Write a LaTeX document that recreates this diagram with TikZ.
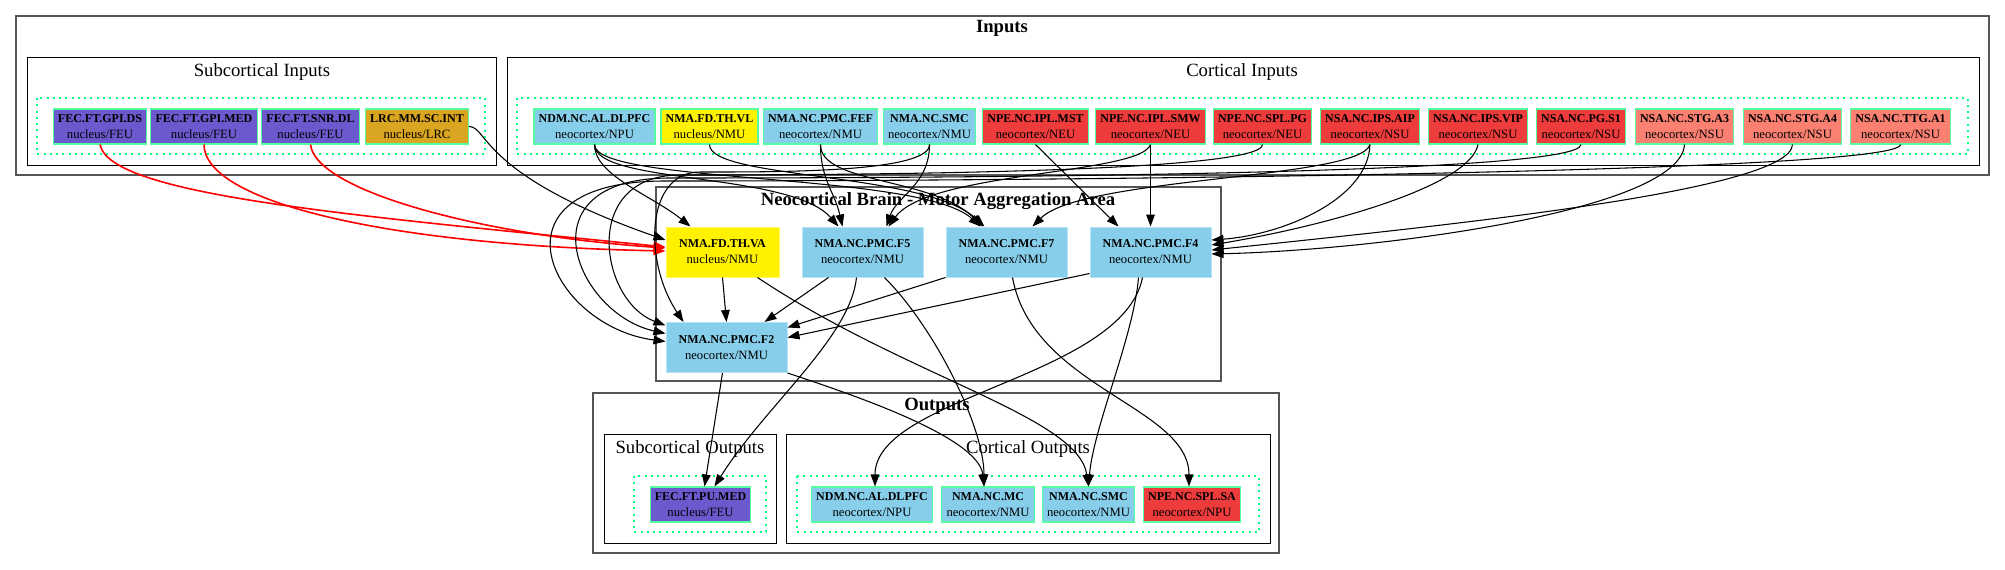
\documentclass[tikz,border=0pt]{standalone}
\usepackage{fontspec}
\setmainfont{Liberation Serif}
\usetikzlibrary{arrows.meta,calc}
\definecolor{skyblue}{RGB}{135,206,235}
\definecolor{firered}{RGB}{238,59,59}
\definecolor{salmon}{RGB}{250,128,114}
\definecolor{slateblue}{RGB}{106,90,205}
\definecolor{goldenrod}{RGB}{218,165,32}
\definecolor{seagreen}{RGB}{84,255,159}
\definecolor{springgreen}{RGB}{0,255,127}
\definecolor{boxgray}{RGB}{85,85,85}
\newcommand{\unitlbl}[2]{{\fontsize{9}{10.5}\selectfont\bfseries #1}\\{\fontsize{9.5}{10.5}\selectfont #2}}
\tikzset{
  unitbox/.style={draw=seagreen, line width=0.8pt, inner xsep=3.5pt, inner ysep=0pt, minimum height=26.25pt, align=center},
  areabox/.style={fill=skyblue, draw=skyblue!60!white, line width=0.75pt, minimum width=90.75pt, minimum height=37.5pt, align=center},
  clusterbox/.style={draw=black, line width=0.75pt},
  topbox/.style={draw=boxgray, line width=1.2pt},
  groupbox/.style={draw=springgreen, line width=1.1pt, dash pattern=on 1.5pt off 3.2pt},
  clustertitle/.style={font=\fontsize{14}{16}\selectfont, inner sep=0pt},
  conn/.style={-{Triangle[length=9pt,width=6.5pt]}, line width=0.8pt},
  redconn/.style={conn, draw=red, line width=1.2pt, -{Triangle[length=9pt,width=6.5pt,fill=red]}},
}
\begin{document}
\begin{tikzpicture}[x=0.75pt, y=-0.75pt]
\useasboundingbox (0,0) rectangle (2005,569);

\draw[topbox] (16,16) rectangle (1989,175);
\draw[clusterbox] (27,57) rectangle (496,165);
\draw[groupbox] (37,98) rectangle (485,154);
\draw[clusterbox] (507,57) rectangle (1979,165);
\draw[groupbox] (517,98) rectangle (1968,154);
\draw[topbox] (656,187) rectangle (1221,381);
\draw[topbox] (593,393) rectangle (1279,553);
\draw[clusterbox] (604,434) rectangle (776,543);
\draw[groupbox] (634,476) rectangle (766,532);
\draw[clusterbox] (786,434) rectangle (1270,543);
\draw[groupbox] (797,476) rectangle (1259,532);

\node[clustertitle] (inputs) at (1002,28) {\bfseries Inputs};
\node[clustertitle] (subin) at (262,72) {Subcortical Inputs};
\node[clustertitle] (cortin) at (1242,72) {Cortical Inputs};
\node[clustertitle] (brain) at (938,201) {\bfseries Neocortical Brain - Motor Aggregation Area};
\node[clustertitle] (outputs) at (937,406) {\bfseries Outputs};
\node[clustertitle] (subout) at (690,449) {Subcortical Outputs};
\node[clustertitle] (cortout) at (1028,449) {Cortical Outputs};

\node[unitbox, fill=slateblue] (gpids) at (100,126.5) {\unitlbl{FEC.FT.GPI.DS}{nucleus/FEU}};
\node[unitbox, fill=slateblue] (gpimed) at (204,126.5) {\unitlbl{FEC.FT.GPI.MED}{nucleus/FEU}};
\node[unitbox, fill=slateblue] (snrdl) at (310.5,126.5) {\unitlbl{FEC.FT.SNR.DL}{nucleus/FEU}};
\node[unitbox, fill=goldenrod] (lrcint) at (417,126.5) {\unitlbl{LRC.MM.SC.INT}{nucleus/LRC}};

\node[unitbox, fill=skyblue] (dlpfcin) at (594.5,126.5) {\unitlbl{NDM.NC.AL.DLPFC}{neocortex/NPU}};
\node[unitbox, fill=yellow] (vl) at (709.5,126.5) {\unitlbl{NMA.FD.TH.VL}{nucleus/NMU}};
\node[unitbox, fill=skyblue] (fef) at (820.5,126.5) {\unitlbl{NMA.NC.PMC.FEF}{neocortex/NMU}};
\node[unitbox, fill=skyblue] (smcin) at (929.5,126.5) {\unitlbl{NMA.NC.SMC}{neocortex/NMU}};
\node[unitbox, fill=firered] (mst) at (1035.5,126.5) {\unitlbl{NPE.NC.IPL.MST}{neocortex/NEU}};
\node[unitbox, fill=firered] (smw) at (1150.5,126.5) {\unitlbl{NPE.NC.IPL.SMW}{neocortex/NEU}};
\node[unitbox, fill=firered] (pg) at (1262.5,126.5) {\unitlbl{NPE.NC.SPL.PG}{neocortex/NEU}};
\node[unitbox, fill=firered] (aip) at (1370,126.5) {\unitlbl{NSA.NC.IPS.AIP}{neocortex/NSU}};
\node[unitbox, fill=firered] (vip) at (1478,126.5) {\unitlbl{NSA.NC.IPS.VIP}{neocortex/NSU}};
\node[unitbox, fill=firered] (s1) at (1581,126.5) {\unitlbl{NSA.NC.PG.S1}{neocortex/NSU}};
\node[unitbox, fill=salmon] (a3) at (1684.5,126.5) {\unitlbl{NSA.NC.STG.A3}{neocortex/NSU}};
\node[unitbox, fill=salmon] (a4) at (1792.5,126.5) {\unitlbl{NSA.NC.STG.A4}{neocortex/NSU}};
\node[unitbox, fill=salmon] (a1) at (1900.5,126.5) {\unitlbl{NSA.NC.TTG.A1}{neocortex/NSU}};

\node[areabox, fill=yellow, draw=yellow!60!white, minimum width=84.75pt] (va) at (722.5,252) {\unitlbl{NMA.FD.TH.VA}{nucleus/NMU}};
\node[areabox] (f5) at (862.5,252) {\unitlbl{NMA.NC.PMC.F5}{neocortex/NMU}};
\node[areabox] (f7) at (1006.5,252) {\unitlbl{NMA.NC.PMC.F7}{neocortex/NMU}};
\node[areabox] (f4) at (1150.5,252) {\unitlbl{NMA.NC.PMC.F4}{neocortex/NMU}};
\node[areabox] (f2) at (726.5,347.5) {\unitlbl{NMA.NC.PMC.F2}{neocortex/NMU}};

\node[unitbox, fill=slateblue] (pumed) at (700.5,504.5) {\unitlbl{FEC.FT.PU.MED}{nucleus/FEU}};
\node[unitbox, fill=skyblue] (dlpfcout) at (872,504.5) {\unitlbl{NDM.NC.AL.DLPFC}{neocortex/NPU}};
\node[unitbox, fill=skyblue] (mc) at (988,504.5) {\unitlbl{NMA.NC.MC}{neocortex/NMU}};
\node[unitbox, fill=skyblue] (smcout) at (1088.5,504.5) {\unitlbl{NMA.NC.SMC}{neocortex/NMU}};
\node[unitbox, fill=firered] (spsa) at (1192,504.5) {\unitlbl{NPE.NC.SPL.SA}{neocortex/NPU}};

\draw[redconn] (gpids.south) .. controls +(10,51) and +(-316,-32) .. ($(va.west)+(0,-5)$);
\draw[redconn] (gpimed.south) .. controls +(0,56) and +(-286,-6) .. ($(va.west)+(0,-1)$);
\draw[redconn] (snrdl.south) .. controls +(5,46) and +(-186,-13) .. ($(va.west)+(0,-4)$);
\draw[conn] (lrcint.east) .. controls +(19,0) and +(-186,-65) .. ($(va.west)+(0,-12)$);

\draw[conn] (dlpfcin.south) .. controls +(0,31) and +(-40,-32) .. ($(va.north)+(-32,0)$);
\draw[conn] (dlpfcin.south) .. controls +(0,40) and +(-48,-55) .. ($(f5.north)+(-24,0)$);
\draw[conn] (dlpfcin.south) .. controls +(0,40) and +(-60,-55) .. ($(f7.north)+(-26,0)$);
\draw[conn] (vl.south) .. controls +(0,35) and +(-60,-55) .. ($(f7.north)+(-22,0)$);
\draw[conn] (fef.south) .. controls +(0,35) and +(-8,-35) .. ($(f5.north)+(-20,0)$);
\draw[conn] (fef.south) .. controls +(0,40) and +(-50,-50) .. ($(f7.north)+(-24,0)$);
\draw[conn] (smcin.south) .. controls +(0,40) and +(10,-30) .. ($(f5.north)+(24,0)$);
\draw[conn] (smw.south) .. controls +(-10,30) and +(40,-55) .. ($(f5.north)+(26,0)$);
\draw[conn] (aip.south) .. controls +(-10,35) and +(50,-50) .. ($(f7.north)+(26,0)$);
\draw[conn] (mst.south) -- ($(f4.north)+(-32,0)$);
\draw[conn] (smw.south) -- (f4.north);
\draw[conn] (aip.south) .. controls +(-2,56) and +(69,-5) .. ($(f4.east)+(0,-12)$);
\draw[conn] (vip.south) .. controls +(-8,41) and +(119,-20) .. ($(f4.east)+(0,-7)$);
\draw[conn] (a4.south) .. controls +(-2,46) and +(239,-25) .. ($(f4.east)+(0,-2)$);
\draw[conn] (a3.south) .. controls +(-4,66) and +(169,-4) .. ($(f4.east)+(0,2)$);

\draw[conn] (smcin.south) .. controls +(0,28) and +(80,0) .. (700,172) .. controls +(-55,0) and +(-40,-60) .. ($(f2.north)+(-43,0)$);
\draw[conn] (pg.south) .. controls +(0,28) and +(180,0) .. (680,175) .. controls +(-100,0) and +(-66,-25) .. ($(f2.west)+(0,-22)$);
\draw[conn] (s1.south) .. controls +(0,30) and +(300,0) .. (670,178) .. controls +(-150,0) and +(-90,-20) .. ($(f2.west)+(0,-14)$);
\draw[conn] (a1.south) .. controls +(0,28) and +(400,0) .. (665,181) .. controls +(-185,0) and +(-115,-15) .. ($(f2.west)+(0,-6)$);

\draw[conn] (va.south) -- (f2.north);
\draw[conn] ($(f5.south)+(-34,0)$) -- ($(f2.north)+(38,0)$);
\draw[conn] (f7.south west) -- ($(f2.east)+(0,-20)$);
\draw[conn] ($(f4.south west)+(0,-4)$) -- ($(f2.east)+(0,-10)$);

\draw[conn] ($(f2.south)+(-4,0)$) -- ($(pumed.north)+(4,0)$);
\draw[conn] ($(f5.south)+(-6,0)$) .. controls +(-6,60) and +(50,-80) .. ($(pumed.north)+(14,0)$);
\draw[conn] (f2.south east) .. controls +(60,20) and +(-5,-50) .. ($(mc.north)+(-4,0)$);
\draw[conn] ($(va.south)+(35,0)$) .. controls +(150,100) and +(-10,-70) .. (smcout.north);
\draw[conn] ($(f5.south)+(22,0)$) .. controls +(50,50) and +(0,-60) .. ($(mc.north)+(-4,0)$);
\draw[conn] ($(f7.south)+(6,0)$) .. controls +(20,110) and +(0,-80) .. ($(spsa.north)+(-3,0)$);
\draw[conn] ($(f4.south)+(-8,0)$) .. controls +(-20,100) and +(0,-90) .. ($(dlpfcout.north)+(3,0)$);
\draw[conn] ($(f4.south)+(-12,0)$) .. controls +(-5,60) and +(5,-60) .. (smcout.north);
\end{tikzpicture}
\end{document}
